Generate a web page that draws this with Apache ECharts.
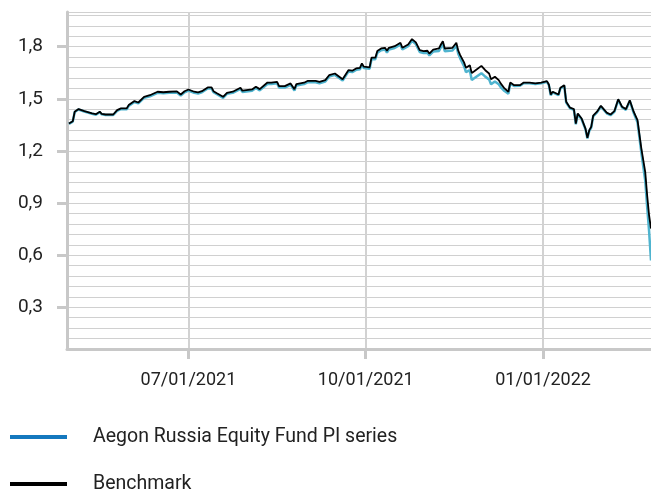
<!DOCTYPE html>
<html>
<head>
<meta charset="utf-8">
<script src="https://cdn.jsdelivr.net/npm/echarts@6/dist/echarts.min.js"></script>
<style>
  html, body { margin: 0; padding: 0; background: #fff; }
  #chart { width: 651px; height: 489px; }
</style>
</head>
<body>
<div id="chart"></div>
<script>
// dates of the observations
var dates = ['2021-04-30','2021-05-02','2021-05-03','2021-05-05','2021-05-08','2021-05-12','2021-05-14','2021-05-16','2021-05-17','2021-05-19',
  '2021-05-23','2021-05-25','2021-05-27','2021-05-30','2021-05-31','2021-06-03','2021-06-05','2021-06-08','2021-06-11','2021-06-15',
  '2021-06-18','2021-06-21','2021-06-25','2021-06-27','2021-06-29','2021-07-01','2021-07-04','2021-07-06','2021-07-08','2021-07-11',
  '2021-07-13','2021-07-14','2021-07-16','2021-07-19','2021-07-21','2021-07-24','2021-07-28','2021-07-29','2021-08-03','2021-08-05',
  '2021-08-07','2021-08-11','2021-08-13','2021-08-16','2021-08-17','2021-08-20','2021-08-23','2021-08-25','2021-08-26','2021-08-30',
  '2021-09-01','2021-09-05','2021-09-07','2021-09-10','2021-09-12','2021-09-15','2021-09-16','2021-09-19','2021-09-22','2021-09-24',
  '2021-09-26','2021-09-28','2021-09-29','2021-09-30','2021-10-03','2021-10-04','2021-10-06','2021-10-07','2021-10-09','2021-10-11',
  '2021-10-12','2021-10-13','2021-10-16','2021-10-17','2021-10-19','2021-10-20','2021-10-23','2021-10-25','2021-10-27','2021-10-29',
  '2021-10-31','2021-11-02','2021-11-03','2021-11-05','2021-11-08','2021-11-09','2021-11-10','2021-11-11','2021-11-12','2021-11-15',
  '2021-11-17','2021-11-18','2021-11-19','2021-11-21','2021-11-22','2021-11-24','2021-11-25','2021-11-27','2021-11-30','2021-12-02',
  '2021-12-04','2021-12-05','2021-12-07','2021-12-09','2021-12-10','2021-12-12','2021-12-14','2021-12-15','2021-12-17','2021-12-20',
  '2021-12-22','2021-12-25','2021-12-28','2021-12-31','2022-01-03','2022-01-04','2022-01-05','2022-01-06','2022-01-09','2022-01-10',
  '2022-01-12','2022-01-13','2022-01-15','2022-01-17','2022-01-18','2022-01-19','2022-01-20','2022-01-21','2022-01-23','2022-01-24',
  '2022-01-25','2022-01-26','2022-01-27','2022-01-29','2022-01-31','2022-02-03','2022-02-05','2022-02-07','2022-02-09','2022-02-11',
  '2022-02-13','2022-02-15','2022-02-16','2022-02-17','2022-02-19','2022-02-21','2022-02-23','2022-02-24','2022-02-25','2022-02-26'];

var benchmark = [1.358,1.371,1.426,1.441,1.429,1.416,1.412,1.426,1.414,1.410,
  1.410,1.435,1.445,1.445,1.464,1.487,1.479,1.512,1.521,1.541,
  1.538,1.541,1.543,1.525,1.544,1.554,1.541,1.537,1.544,1.566,
  1.566,1.544,1.531,1.512,1.535,1.541,1.564,1.547,1.554,1.570,
  1.556,1.594,1.593,1.598,1.573,1.573,1.589,1.556,1.585,1.593,
  1.604,1.604,1.598,1.608,1.636,1.646,1.636,1.613,1.665,1.662,
  1.675,1.679,1.704,1.685,1.681,1.737,1.737,1.775,1.790,1.794,
  1.777,1.794,1.803,1.803,1.823,1.794,1.813,1.844,1.825,1.780,
  1.775,1.777,1.761,1.784,1.790,1.813,1.832,1.790,1.780,1.794,
  1.823,1.777,1.752,1.710,1.679,1.694,1.648,1.665,1.690,1.665,
  1.646,1.613,1.627,1.608,1.589,1.560,1.541,1.594,1.579,1.579,
  1.594,1.594,1.589,1.594,1.602,1.583,1.525,1.541,1.525,1.564,
  1.579,1.483,1.449,1.441,1.358,1.416,1.426,1.387,1.329,1.276,
  1.320,1.339,1.403,1.426,1.460,1.421,1.410,1.429,1.498,1.454,
  1.441,1.492,1.498,1.426,1.377,1.214,1.080,0.945,0.830,0.753];

var fund = [1.356,1.369,1.424,1.439,1.427,1.414,1.409,1.423,1.411,1.407,
  1.407,1.431,1.441,1.440,1.459,1.482,1.474,1.506,1.515,1.535,
  1.532,1.535,1.537,1.519,1.538,1.548,1.535,1.531,1.538,1.560,
  1.560,1.538,1.525,1.506,1.529,1.535,1.557,1.540,1.547,1.563,
  1.549,1.586,1.585,1.590,1.565,1.565,1.581,1.548,1.577,1.585,
  1.596,1.596,1.590,1.600,1.628,1.638,1.628,1.606,1.657,1.654,
  1.667,1.671,1.696,1.677,1.673,1.728,1.728,1.765,1.780,1.784,
  1.767,1.784,1.793,1.793,1.812,1.784,1.803,1.834,1.815,1.770,
  1.764,1.766,1.750,1.772,1.776,1.798,1.816,1.774,1.764,1.778,
  1.806,1.760,1.733,1.688,1.654,1.665,1.608,1.624,1.648,1.628,
  1.612,1.584,1.600,1.584,1.568,1.545,1.530,1.588,1.574,1.575,
  1.590,1.590,1.585,1.590,1.598,1.579,1.521,1.537,1.521,1.560,
  1.575,1.479,1.445,1.437,1.354,1.412,1.422,1.383,1.325,1.272,
  1.316,1.335,1.399,1.422,1.456,1.417,1.406,1.425,1.494,1.450,
  1.437,1.488,1.494,1.420,1.365,1.190,1.030,0.880,0.740,0.570];

var xTicks = ['2021-07-01', '2021-10-01', '2022-01-01'];
var yTicks = [0.3, 0.6, 0.9, 1.2, 1.5, 1.8];
var seriesNames = ['Aegon Russia Equity Fund PI series', 'Benchmark'];

function toTime(s) { return echarts.time.parse(s).getTime(); }
function pairs(vals) {
  return dates.map(function (d, i) { return [toTime(d), vals[i]]; });
}
function pad(n) { return (n < 10 ? '0' : '') + n; }

var myChart = echarts.init(document.getElementById('chart'));

var option = {
  animation: false,
  textStyle: { fontFamily: 'Roboto' },
  grid: { left: 67, right: 0, top: 12, bottom: 140 },
  legend: {
    orient: 'vertical',
    left: 10,
    top: 427,
    height: 120,
    padding: 0,
    icon: 'rect',
    itemWidth: 57,
    itemHeight: 4,
    itemGap: 27,
    textStyle: { fontSize: 19.5, color: '#222', padding: [0, 0, 0, 21] },
    data: [
      { name: seriesNames[0], itemStyle: { color: '#1478be' } },
      { name: seriesNames[1], itemStyle: { color: '#000' } }
    ]
  },
  xAxis: {
    type: 'value',
    min: toTime('2021-04-29'),
    max: toTime('2022-02-26'),
    axisLine: { lineStyle: { color: '#c8c8c8', width: 3 } },
    axisTick: { show: true, length: 10, lineStyle: { color: '#c8c8c8', width: 3 },
      customValues: xTicks.map(toTime) },
    axisLabel: {
      fontSize: 18, color: '#222', margin: 22,
      customValues: xTicks.map(toTime),
      formatter: function (v) {
        var d = new Date(v);
        return pad(d.getMonth() + 1) + '/' + pad(d.getDate()) + '/' + d.getFullYear();
      }
    },
    splitLine: { show: true, lineStyle: { color: '#d2d2d2', width: 2 } }
  },
  yAxis: [{
    type: 'value',
    min: 0.06,
    max: 2.0,
    interval: 0.06,
    axisLine: { show: true, lineStyle: { color: '#c8c8c8', width: 3 } },
    axisTick: { show: false },
    axisLabel: { show: false },
    splitLine: { show: true, lineStyle: { color: '#d0d0d0', width: 1.2 } }
  }, {
    type: 'value',
    min: 0.06,
    max: 2.0,
    position: 'left',
    axisLine: { show: false },
    axisTick: { show: true, length: 10, customValues: yTicks, lineStyle: { color: '#c8c8c8', width: 3 } },
    axisLabel: {
      fontSize: 19, color: '#222', margin: 24, customValues: yTicks,
      formatter: function (v) { return v.toFixed(1).replace('.', ','); }
    },
    splitLine: { show: false }
  }],
  series: [{
    name: seriesNames[0],
    type: 'line',
    showSymbol: false,
    data: pairs(fund),
    lineStyle: { color: '#4fb4cf', width: 2.5 },
    itemStyle: { color: '#1478be' }
  }, {
    name: seriesNames[1],
    type: 'line',
    showSymbol: false,
    data: pairs(benchmark),
    lineStyle: { color: '#000', width: 1.8 },
    itemStyle: { color: '#000' }
  }]
};

myChart.setOption(option);
</script>
</body>
</html>
